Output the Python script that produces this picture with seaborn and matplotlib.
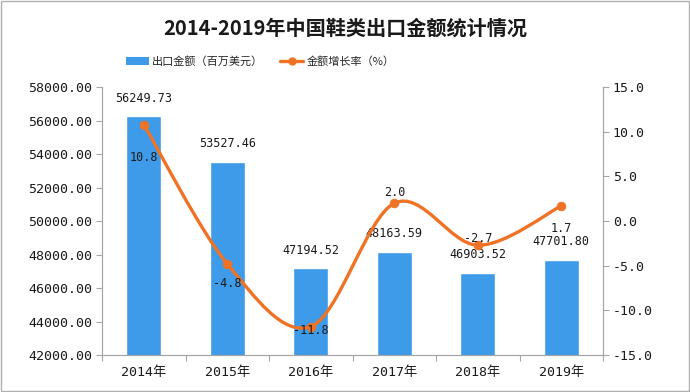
import matplotlib
matplotlib.use("Agg")
import matplotlib.pyplot as plt
import seaborn as sns
import pandas as pd
import numpy as np
from matplotlib.path import Path
from matplotlib.patches import PathPatch, Patch, Rectangle
from matplotlib.lines import Line2D
from matplotlib.ticker import FormatStrFormatter, FixedLocator

years = ["2014年", "2015年", "2016年", "2017年", "2018年", "2019年"]
export_value = [56249.73, 53527.46, 47194.52, 48163.59, 46903.52, 47701.80]
growth_rate = [10.8, -4.8, -11.8, 2.0, -2.7, 1.7]
title = "2014-2019年中国鞋类出口金额统计情况"
bar_label = "出口金额（百万美元）"
line_label = "金额增长率（%）"

BAR_COLOR = "#3d9be9"
LINE_COLOR = "#f07224"
MONO = ["DejaVu Sans Mono", "Noto Sans CJK SC"]

sns.set_theme(style="white")
plt.rcParams["font.family"] = ["Noto Sans CJK SC", "DejaVu Sans"]

df = pd.DataFrame({"year": years, "value": export_value, "rate": growth_rate})

fig = plt.figure(figsize=(6.9, 3.92), dpi=100)
ax = fig.add_axes([0.148, 0.094, 0.726, 0.684])
sns.barplot(data=df, x="year", y="value", color=BAR_COLOR, width=0.42,
            saturation=1, ax=ax)
ax.set_ylim(42000, 58000)
ax.set_yticks(np.arange(42000, 58001, 2000))
ax.yaxis.set_major_formatter(FormatStrFormatter("%.2f"))
ax.set_xlim(-0.5, len(years) - 0.5)
ax.set_xlabel("")
ax.set_ylabel("")

for i, v in enumerate(export_value):
    ax.annotate(f"{v:.2f}", (i, v), xytext=(0, 13), textcoords="offset points",
                ha="center", va="center", fontsize=8.5, family=MONO,
                color="#1a1a1a")

ax2 = ax.twinx()
ax2.set_ylim(-15, 15)
ax2.set_yticks(np.arange(-15, 15.1, 5))
ax2.yaxis.set_major_formatter(FormatStrFormatter("%.1f"))

# smooth line (Excel-like Bezier smoothing through the data points)
xs = np.arange(len(growth_rate), dtype=float)
ys = np.array(growth_rate, dtype=float)
verts = [(xs[0], ys[0])]
codes = [Path.MOVETO]
n = len(xs)
for i in range(n - 1):
    p0 = np.array([xs[max(i - 1, 0)], ys[max(i - 1, 0)]])
    p1 = np.array([xs[i], ys[i]])
    p2 = np.array([xs[i + 1], ys[i + 1]])
    p3 = np.array([xs[min(i + 2, n - 1)], ys[min(i + 2, n - 1)]])
    c1 = p1 + (p2 - p0) / 6.0
    c2 = p2 - (p3 - p1) / 6.0
    verts += [tuple(c1), tuple(c2), tuple(p2)]
    codes += [Path.CURVE4] * 3
ax2.add_patch(PathPatch(Path(verts, codes), facecolor="none",
                        edgecolor=LINE_COLOR, lw=2.4, zorder=3))
sns.scatterplot(x=xs, y=ys, color=LINE_COLOR, s=40, edgecolor=LINE_COLOR,
                ax=ax2, zorder=4)

offsets = [-24, -14, -3, 8, 5, -16]
for i, r in enumerate(growth_rate):
    ax2.annotate(f"{r:.1f}", (i, r), xytext=(0, offsets[i]),
                 textcoords="offset points", ha="center", va="center",
                 fontsize=8.5, family=MONO, color="#1a1a1a", zorder=5)

for a in (ax, ax2):
    for s in a.spines.values():
        s.set_color("#a6a6a6")
        s.set_linewidth(0.8)
    a.spines["top"].set_visible(False)
    a.tick_params(colors="#a6a6a6", labelcolor="#1a1a1a", length=4,
                  width=0.8, labelsize=9.5)
    for lab in a.get_yticklabels():
        lab.set_family(MONO)
ax.tick_params(axis="y", left=True, direction="out", pad=3)
ax2.tick_params(axis="y", right=True, direction="out", pad=3)
ax.xaxis.set_minor_locator(FixedLocator(np.arange(-0.5, len(years), 1.0)))
ax.tick_params(axis="x", which="major", bottom=False, pad=4)
ax.tick_params(axis="x", which="minor", bottom=True, length=4, width=0.8,
               color="#a6a6a6", direction="out")
for lab in ax.get_xticklabels():
    lab.set_family(MONO)

fig.text(0.5, 0.929, title, ha="center", va="center", fontsize=14.5,
         fontweight="bold", color="#1a1a1a")

handles = [Patch(facecolor=BAR_COLOR, edgecolor="none"),
           Line2D([], [], color=LINE_COLOR, lw=2.4, marker="o", markersize=5)]
fig.legend(handles, [bar_label, line_label], loc="center",
           bbox_to_anchor=(0.377, 0.843), ncol=2, frameon=False, fontsize=8,
           handlelength=2.1, columnspacing=1.5, handletextpad=0.3)

fig.patches.append(Rectangle((0.002, 0.003), 0.996, 0.994, transform=fig.transFigure,
                             fill=False, edgecolor="#b0b0b0", lw=1))

fig.savefig("out.png", dpi=100)
